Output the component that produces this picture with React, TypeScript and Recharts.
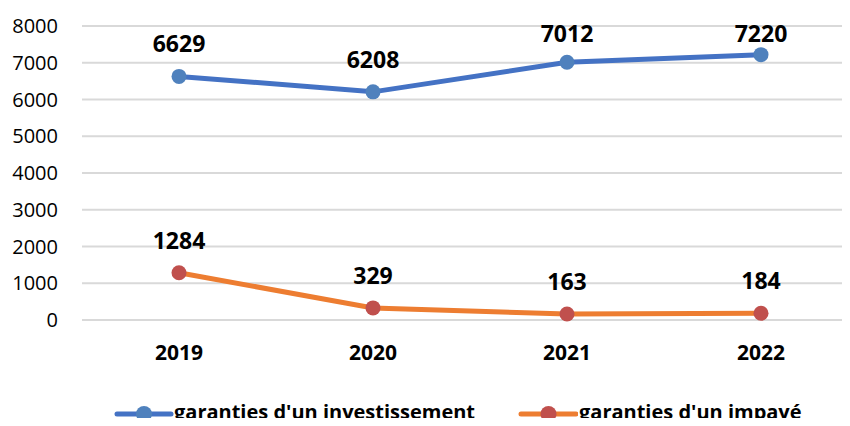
import { LineChart, Line, CartesianGrid, XAxis, YAxis, LabelList } from "recharts";

const years = ["2019", "2020", "2021", "2022"];
const investissement = [6629, 6208, 7012, 7220];
const impaye = [1284, 329, 163, 184];
const yTicks = [0, 1000, 2000, 3000, 4000, 5000, 6000, 7000, 8000];

const data = years.map((year, i) => ({
  year,
  investissement: investissement[i],
  impaye: impaye[i],
}));

const FONT = "'Open Sans', 'Noto Sans', sans-serif";

// value label above each point, kept inside the top of the chart
const renderLabel = (props: any) => {
  const { x, y, value } = props;
  const cy = Math.max(Number(y) - 33, 33);
  return (
    <text
      x={x}
      y={cy}
      textAnchor="middle"
      dominantBaseline="central"
      fontFamily={FONT}
      fontWeight={700}
      fontSize={23}
      fill="#000"
    >
      {value}
    </text>
  );
};

const LegendItem = ({ left, lineLeft, line, dot, text }: { left: number; lineLeft: number; line: string; dot: string; text: string }) => (
  <>
    <svg width={60} height={18} style={{ position: "absolute", left: lineLeft, top: 405 }}>
      <line x1={3} y1={9} x2={left - lineLeft - 3} y2={9} stroke={line} strokeWidth={5} strokeLinecap="round" />
      <circle cx={(left - lineLeft) / 2} cy={9} r={8} fill={dot} />
    </svg>
    <span
      style={{
        position: "absolute",
        left,
        top: 402,
        fontFamily: FONT,
        fontWeight: 700,
        fontSize: 20,
        lineHeight: "20px",
        whiteSpace: "nowrap",
        color: "#000",
      }}
    >
      {text}
    </span>
  </>
);

export default function App() {
  return (
    <div style={{ width: 850, height: 426, overflow: "hidden", margin: -8, position: "relative", background: "#fff" }}>
      <LineChart
        width={870}
        height={380}
        data={data}
        margin={{ top: 26, right: 12, left: 0, bottom: 20 }}
      >
        <CartesianGrid vertical={false} stroke="#d9d9d9" strokeWidth={2} />
        <XAxis
          dataKey="year"
          axisLine={false}
          tickLine={false}
          tickMargin={19}
          height={40}
          padding={{ left: 97, right: 97 }}
          tick={{ fontFamily: FONT, fontSize: 21, fontWeight: 700, fill: "#000" }}
        />
        <YAxis
          domain={[0, 8000]}
          ticks={yTicks}
          width={82}
          axisLine={false}
          tickLine={false}
          tickMargin={18}
          tick={{ fontFamily: FONT, fontSize: 20, fill: "#000" }}
        />
        <Line
          dataKey="investissement"
          stroke="#4472C4"
          strokeWidth={5}
          dot={{ r: 7.5, fill: "#4F81BD", stroke: "none" }}
          isAnimationActive={false}
        >
          <LabelList dataKey="investissement" content={renderLabel} />
        </Line>
        <Line
          dataKey="impaye"
          stroke="#ED7D31"
          strokeWidth={5}
          dot={{ r: 7.5, fill: "#C0504D", stroke: "none" }}
          isAnimationActive={false}
        >
          <LabelList dataKey="impaye" content={renderLabel} />
        </Line>
      </LineChart>
      <LegendItem lineLeft={114} left={174} line="#4472C4" dot="#4F81BD" text="garanties d'un investissement" />
      <LegendItem lineLeft={518} left={579} line="#ED7D31" dot="#C0504D" text="garanties d'un impayé" />
    </div>
  );
}
